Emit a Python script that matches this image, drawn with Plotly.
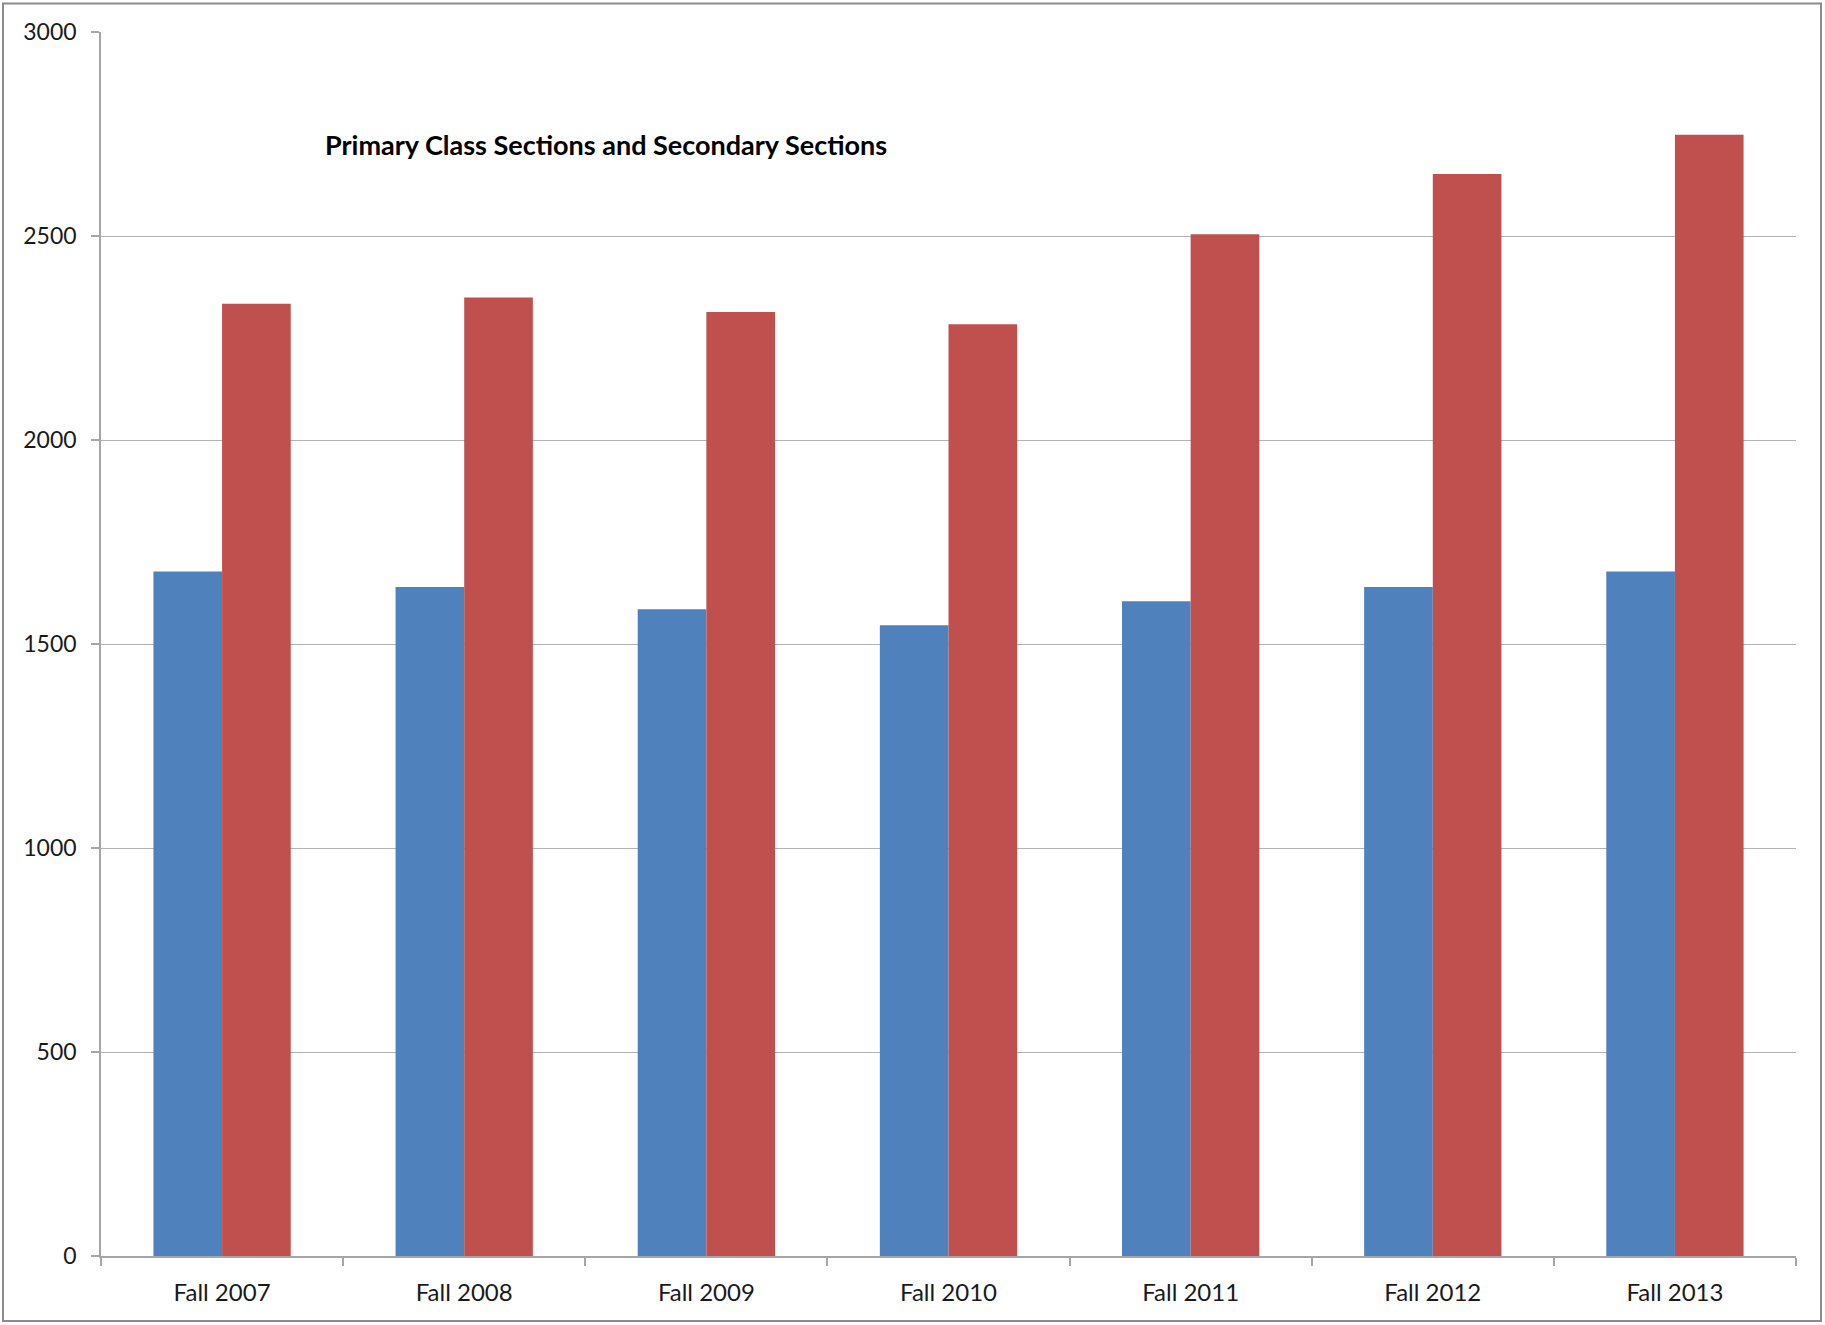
import plotly.graph_objects as go

# Section counts by fall term
terms = ["Fall 2007", "Fall 2008", "Fall 2009", "Fall 2010", "Fall 2011", "Fall 2012", "Fall 2013"]
primary_sections = [1678, 1640, 1585, 1546, 1605, 1640, 1678]
secondary_sections = [2334, 2349, 2314, 2284, 2504, 2652, 2748]
y_ticks = [0, 500, 1000, 1500, 2000, 2500, 3000]

W, H = 1825, 1325
ML, MR, MT, MB = 101, 29, 31.5, 69
PW, PH = W - ML - MR, H - MT - MB

FONT = "Lato, Calibri, Carlito, sans-serif"
AXIS_GRAY = "#A6A6A6"

fig = go.Figure()
fig.add_trace(go.Bar(x=terms, y=primary_sections, name="Primary Class Sections",
                     marker=dict(color="#4F81BD", line=dict(width=0))))
fig.add_trace(go.Bar(x=terms, y=secondary_sections, name="Secondary Sections",
                     marker=dict(color="#C0504D", line=dict(width=0))))

fig.update_layout(
    width=W, height=H,
    margin=dict(l=ML, r=MR, t=MT, b=MB, pad=0),
    paper_bgcolor="white", plot_bgcolor="white",
    barmode="group", bargap=0.433, bargroupgap=0,
    showlegend=False,
    font=dict(family=FONT, size=23, color="#1a1a1a"),
)

fig.update_xaxes(
    type="category",
    showline=True, linecolor=AXIS_GRAY, linewidth=1.5,
    ticks="outside", tickson="boundaries", ticklen=8, tickcolor=AXIS_GRAY, tickwidth=1.5,
    showgrid=False,
    tickfont=dict(family=FONT, size=24, color="#1a1a1a"),
    ticklabelstandoff=14,
)
fig.update_yaxes(
    range=[0, 3000], tickvals=y_ticks, ticktext=[str(v) for v in y_ticks],
    showline=True, linecolor=AXIS_GRAY, linewidth=1.5,
    ticks="outside", ticklen=8, tickcolor=AXIS_GRAY, tickwidth=1.5,
    showgrid=True, gridcolor="#B3B3B3", gridwidth=1.3,
    zeroline=False,
    tickfont=dict(family=FONT, size=23, color="#1a1a1a"),
    ticklabelstandoff=10,
)

# Chart title inside the plot area
fig.add_annotation(
    text="<b>Primary Class Sections and Secondary Sections</b>",
    xref="paper", yref="paper", x=(605.5 - ML) / PW, y=(H - MB - 144) / PH,
    xanchor="center", yanchor="middle", showarrow=False,
    font=dict(family=FONT, size=27, color="black"),
)

# Outer frame around the whole chart
fig.add_shape(
    type="rect", xref="paper", yref="paper",
    x0=(3 - ML) / PW, x1=(W - 4 - ML) / PW,
    y0=(H - MB - (H - 4)) / PH, y1=(H - MB - 3) / PH,
    line=dict(color="#8C8C8C", width=2), fillcolor="rgba(0,0,0,0)", layer="above",
)

fig.write_html("out.html")
